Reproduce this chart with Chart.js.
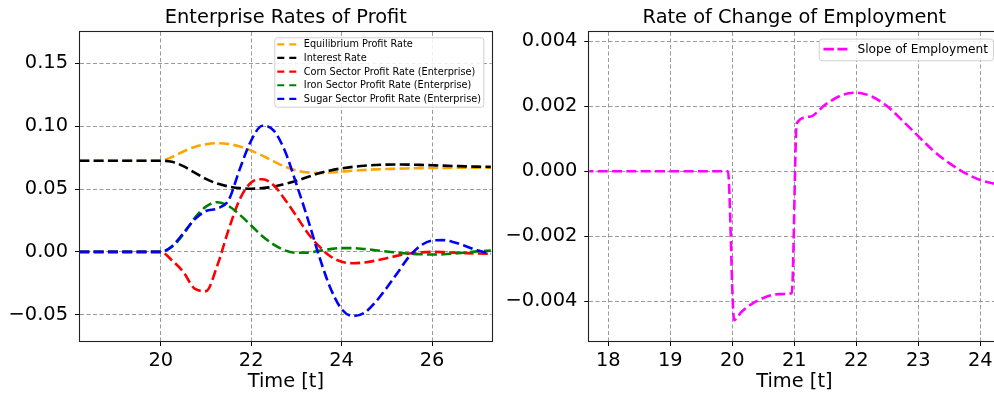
<!DOCTYPE html>
<html><head><meta charset="utf-8">
<script src="https://cdn.jsdelivr.net/npm/chart.js@4.4.1/dist/chart.umd.min.js"></script>
<style>
html,body{margin:0;padding:0;background:#fff;overflow:hidden;width:994px;height:394px;position:relative;}
#c1{position:absolute;left:0;top:0;}
#c2{position:absolute;left:500px;top:0;}
</style></head><body>
<canvas id="c1" width="500" height="394"></canvas>
<canvas id="c2" width="510" height="394"></canvas>
<script>
// ---------- Left chart data ----------
const profitTime = [18.2, 19, 20, 20.25, 20.5, 20.75, 21, 21.25, 21.5, 21.75, 22, 22.25, 22.5, 22.75, 23, 23.25, 23.5, 23.75, 24, 24.25, 24.5, 24.75, 25, 25.25, 25.5, 25.75, 26, 26.25, 26.5, 26.75, 27, 27.3];
const equilibriumRate = [0.0725, 0.0725, 0.0725, 0.0755, 0.0798, 0.0835, 0.0855, 0.0864, 0.0858, 0.0838, 0.0805, 0.0765, 0.0720, 0.0678, 0.0648, 0.0632, 0.0627, 0.0631, 0.0638, 0.0645, 0.0651, 0.0656, 0.0659, 0.0662, 0.0664, 0.0666, 0.0667, 0.0668, 0.0669, 0.0669, 0.0670, 0.0670];
const interestRate = [0.0725, 0.0725, 0.0725, 0.0716, 0.0682, 0.0630, 0.0580, 0.0543, 0.0520, 0.0507, 0.0502, 0.0507, 0.0518, 0.0540, 0.0565, 0.0595, 0.0625, 0.0648, 0.0664, 0.0676, 0.0685, 0.0691, 0.0694, 0.0695, 0.0694, 0.0692, 0.0689, 0.0686, 0.0683, 0.0680, 0.0678, 0.0676];
const cornRate = [0, 0, 0, -0.0068, -0.0160, -0.0292, -0.0312, -0.0110, 0.0175, 0.0420, 0.0552, 0.0578, 0.0530, 0.0415, 0.0285, 0.0150, 0.0045, -0.0035, -0.0078, -0.0090, -0.0085, -0.0070, -0.0050, -0.0030, -0.0013, -0.0004, 0.0, -0.0002, -0.0006, -0.0010, -0.0013, -0.0016];
const ironRate = [0, 0, 0, 0.0040, 0.0140, 0.0268, 0.0360, 0.0395, 0.0365, 0.0295, 0.0210, 0.0125, 0.0058, 0.0012, -0.0007, -0.0006, 0.0008, 0.0022, 0.0030, 0.0030, 0.0023, 0.0013, 0.0003, -0.0007, -0.0014, -0.0019, -0.0021, -0.0019, -0.0013, -0.0005, 0.0004, 0.0010];
const sugarRate = [0, 0, 0, 0.0045, 0.0148, 0.0258, 0.0325, 0.0345, 0.0410, 0.0660, 0.0885, 0.1003, 0.0965, 0.0800, 0.0540, 0.0265, -0.0030, -0.0285, -0.0455, -0.0510, -0.0485, -0.0400, -0.0285, -0.0160, -0.0035, 0.0050, 0.0090, 0.0093, 0.0075, 0.0045, 0.0012, -0.0015];
const profitLabels = ['Equilibrium Profit Rate', 'Interest Rate', 'Corn Sector Profit Rate (Enterprise)', 'Iron Sector Profit Rate (Enterprise)', 'Sugar Sector Profit Rate (Enterprise)'];
const profitColors = ['#FFA500', '#000000', '#FF0000', '#008000', '#0000FF'];
const profitXTicks = [20, 22, 24, 26];
const profitXTickLabels = ['20', '22', '24', '26'];
const profitYTicks = [-0.05, 0, 0.05, 0.10, 0.15];
const profitYTickLabels = ['\u22120.05', '0.00', '0.05', '0.10', '0.15'];

// ---------- Right chart data ----------
const employTime = [17.6, 18, 19, 19.93, 20.03, 20.15, 20.3, 20.5, 20.75, 20.96, 21.04, 21.25, 21.5, 21.75, 22, 22.25, 22.5, 22.75, 23, 23.25, 23.5, 23.75, 24, 24.35];
const employSlope = [0, 0, 0, 0, -0.00458, -0.00432, -0.00410, -0.00390, -0.00378, -0.00375, 0.00148, 0.00168, 0.00205, 0.00233, 0.00242, 0.00230, 0.00200, 0.00155, 0.00108, 0.00062, 0.00025, -0.00005, -0.00027, -0.00043];
const employLabel = 'Slope of Employment';
const employColor = '#FF00FF';
const employXTicks = [18, 19, 20, 21, 22, 23, 24];
const employXTickLabels = ['18', '19', '20', '21', '22', '23', '24'];
const employYTicks = [-0.004, -0.002, 0, 0.002, 0.004];
const employYTickLabels = ['\u22120.004', '\u22120.002', '0.000', '0.002', '0.004'];

// ---------- helpers ----------
const FONT = '"DejaVu Sans", "Liberation Sans", sans-serif';
const FS = 19.4;

const spinePlugin = {
  id: 'spines',
  afterDraw(chart) {
    const {ctx, chartArea: a} = chart;
    ctx.save();
    ctx.strokeStyle = '#222';
    ctx.lineWidth = 1.1;
    ctx.strokeRect(Math.round(a.left) - 0.5, Math.round(a.top) - 0.5, Math.round(a.right) - Math.round(a.left) + 1, Math.round(a.bottom) - Math.round(a.top) + 1);
    ctx.restore();
  }
};

const boxLegendPlugin = {
  id: 'boxLegend',
  afterDraw(chart, args, o) {
    if (!o || !o.show) return;
    const {ctx, chartArea: a} = chart;
    const ds = chart.data.datasets;
    ctx.save();
    ctx.font = o.fontSize + 'px ' + FONT;
    const maxW = Math.max(...ds.map(d => ctx.measureText(d.label).width));
    const boxW = Math.max(o.minWidth, o.pad + o.handleLen + o.textPad + maxW + o.padR);
    const boxRight = a.right - o.rightGap;
    const boxLeft = boxRight - boxW;
    const boxTop = a.top + o.topGap;
    ctx.beginPath();
    ctx.roundRect(boxLeft + 0.5, boxTop + 0.5, boxW, o.height, o.radius);
    ctx.fillStyle = 'rgba(255,255,255,0.85)';
    ctx.fill();
    ctx.strokeStyle = '#d0d0d0';
    ctx.lineWidth = 1;
    ctx.stroke();
    ds.forEach((d, k) => {
      const y = boxTop + o.firstRow + k * o.rowGap;
      ctx.beginPath();
      ctx.setLineDash(o.dash);
      ctx.strokeStyle = d.borderColor;
      ctx.lineWidth = o.lineWidth;
      ctx.moveTo(boxLeft + o.pad, y);
      ctx.lineTo(boxLeft + o.pad + o.handleLen, y);
      ctx.stroke();
      ctx.setLineDash([]);
      ctx.fillStyle = '#000';
      ctx.textBaseline = 'middle';
      ctx.textAlign = 'left';
      ctx.fillText(d.label, boxLeft + o.pad + o.handleLen + o.textPad, y + 0.5);
    });
    ctx.restore();
  }
};

function tickLabel(values, labels) {
  return (v) => {
    const i = values.findIndex(t => Math.abs(t - v) < 1e-9);
    return i >= 0 ? labels[i] : '';
  };
}

function makeChart(canvas, cfg) {
  return new Chart(canvas, {
    type: 'line',
    data: { datasets: cfg.datasets },
    options: {
      responsive: false,
      animation: false,
      devicePixelRatio: 1,
      layout: { padding: { left: 0, right: cfg.padRight, top: 0, bottom: 0 } },
      plugins: {
        legend: { display: false },
        tooltip: { enabled: false },
        title: {
          display: true, text: cfg.title, fullSize: false, color: '#000',
          font: { family: FONT, size: FS, weight: 'normal', lineHeight: 1.2 },
          padding: { top: 6.8, bottom: 1.9 }
        },
        boxLegend: cfg.legend
      },
      scales: {
        x: {
          type: 'linear', min: cfg.xmin, max: cfg.xmax,
          afterBuildTicks: s => { s.ticks = cfg.xTicks.map(v => ({ value: v })); },
          afterFit: s => { s.height = 53; },
          ticks: { callback: tickLabel(cfg.xTicks, cfg.xLabels), color: '#000', font: { family: FONT, size: FS }, padding: 3.5, maxRotation: 0, autoSkip: false },
          grid: { color: '#9a9a9a', lineWidth: 1, tickLength: 5, tickColor: '#000', tickWidth: 1, drawTicks: true },
          border: { display: false, dash: [4, 2.5] },
          title: { display: true, text: 'Time [t]', color: '#000', font: { family: FONT, size: FS, lineHeight: 1.2 }, padding: { top: 0, bottom: 0 } }
        },
        y: {
          type: 'linear', min: cfg.ymin, max: cfg.ymax,
          afterBuildTicks: s => { s.ticks = cfg.yTicks.map(v => ({ value: v })); },
          afterFit: s => { s.width = cfg.yWidth; },
          ticks: { callback: tickLabel(cfg.yTicks, cfg.yLabels), color: '#000', font: { family: FONT, size: FS }, padding: 7, autoSkip: false },
          grid: { color: '#9a9a9a', lineWidth: 1, tickLength: 5, tickColor: '#000', tickWidth: 1, drawTicks: true },
          border: { display: false, dash: [4, 2.5] }
        }
      }
    },
    plugins: [spinePlugin, boxLegendPlugin]
  });
}

function series(times, values, label, color, order) {
  return {
    label, data: times.map((t, i) => ({ x: t, y: values[i] })),
    borderColor: color, backgroundColor: color, borderWidth: 2.6, borderDash: [10, 4.3],
    pointRadius: 0, cubicInterpolationMode: 'monotone', fill: false, clip: 0, order
  };
}

const profitSeries = [equilibriumRate, interestRate, cornRate, ironRate, sugarRate];
makeChart(document.getElementById('c1'), {
  title: 'Enterprise Rates of Profit',
  datasets: profitSeries.map((vals, i) => series(profitTime, vals, profitLabels[i], profitColors[i], profitSeries.length - i)),
  xmin: 18.215, xmax: 27.32, ymin: -0.0709, ymax: 0.1749,
  xTicks: profitXTicks, xLabels: profitXTickLabels, yTicks: profitYTicks, yLabels: profitYTickLabels,
  yWidth: 80, padRight: 8.3,
  legend: { show: true, fontSize: 9.72, minWidth: 209, pad: 3, handleLen: 19, textPad: 7.5, padR: 1.5, rightGap: 8.4, topGap: 5.3, height: 69.4, radius: 2.5, firstRow: 7, rowGap: 13.65, dash: [7, 5], lineWidth: 2.2 }
});

makeChart(document.getElementById('c2'), {
  title: 'Rate of Change of Employment',
  datasets: [series(employTime, employSlope, employLabel, employColor, 1)],
  xmin: 17.694, xmax: 24.31, ymin: -0.005222, ymax: 0.004286,
  xTicks: employXTicks, xLabels: employXTickLabels, yTicks: employYTicks, yLabels: employYTickLabels,
  yWidth: 89.3, padRight: 10.5,
  legend: { show: true, fontSize: 12.2, minWidth: 174, pad: 4.7, handleLen: 24, textPad: 10, padR: 5, rightGap: 6.5, topGap: 6.6, height: 21.7, radius: 3, firstRow: 10.5, rowGap: 0, dash: [10.5, 3.5], lineWidth: 2.6 }
});
</script>
</body></html>
